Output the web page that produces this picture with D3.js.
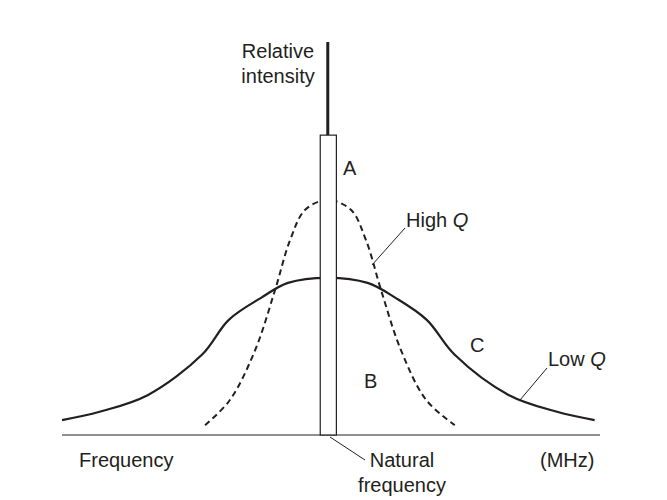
<!DOCTYPE html>
<html><head><meta charset="utf-8">
<script src="https://cdn.jsdelivr.net/npm/d3@7"></script>
<style>body{margin:0;background:#fff}text{font-family:"Liberation Sans",Arial,sans-serif;font-size:20px;fill:#231f20}</style>
</head><body><svg id="chart" width="667" height="500"></svg>
<script>
// Low Q curve (solid) and High Q curve (dashed)
const lowQFreq = [0, 7, 16, 26, 31, 37, 42, 49.4, 56.8, 62, 67.8, 73, 83, 92, 99];
const lowQInt = [3.8, 5.9, 10.2, 20.4, 29.3, 34.9, 38.7, 40, 38.7, 34.9, 29.3, 20.4, 10.2, 5.9, 3.8];
const highQFreq = [26.6, 31.2, 35.9, 39.6, 42.4, 45.2, 49.4, 53.7, 56.5, 59.3, 63, 67.7, 73];
const highQInt = [2.5, 8.9, 21.6, 36.9, 49.6, 57.3, 59.8, 57.3, 49.6, 36.9, 21.6, 8.9, 2.5];
// Natural frequency bar A
const barLeft = 48, barRight = 51, barTop = 76.3;

const svg = d3.select("#chart");
const x = d3.scaleLinear().domain([0, 100]).range([62, 600]);
const y = d3.scaleLinear().domain([0, 100]).range([435, 42]);
const ink = "#231f20";

// x axis baseline
svg.append("line").attr("x1", x(0)).attr("x2", x(100)).attr("y1", y(0)).attr("y2", y(0))
  .attr("stroke", ink).attr("stroke-width", 1);

// vertical intensity axis
svg.append("line").attr("x1", x(49.4)).attr("x2", x(49.4)).attr("y1", y(100)).attr("y2", y(barTop))
  .attr("stroke", ink).attr("stroke-width", 3);

const line = d3.line().x(d => x(d[0])).y(d => y(d[1])).curve(d3.curveCatmullRom);

svg.append("path").datum(d3.zip(lowQFreq, lowQInt)).attr("d", line)
  .attr("fill", "none").attr("stroke", ink).attr("stroke-width", 2.2);

svg.append("path").datum(d3.zip(highQFreq, highQInt)).attr("d", line)
  .attr("fill", "none").attr("stroke", ink).attr("stroke-width", 2).attr("stroke-dasharray", "6,4");

svg.append("rect").attr("x", x(barLeft)).attr("y", y(barTop))
  .attr("width", x(barRight) - x(barLeft)).attr("height", y(0) - y(barTop))
  .attr("fill", "#fff").attr("stroke", ink).attr("stroke-width", 1.2);

// leader lines
const leaders = [[405, 228, 372, 265], [547, 368, 520, 400], [330, 437, 365, 460]];
leaders.forEach(l => svg.append("line").attr("x1", l[0]).attr("y1", l[1]).attr("x2", l[2]).attr("y2", l[3])
  .attr("stroke", ink).attr("stroke-width", 1));

const label = (t, px, py, anchor) => svg.append("text").attr("x", px).attr("y", py)
  .attr("text-anchor", anchor || "start").text(t);

label("Relative", 278, 58, "middle");
label("intensity", 278, 83, "middle");
label("A", 343, 175);
label("B", 364, 388);
label("C", 470, 352);
svg.append("text").attr("x", 406, ).attr("y", 227).html('High <tspan font-style="italic">Q</tspan>');
svg.append("text").attr("x", 548).attr("y", 366).html('Low <tspan font-style="italic">Q</tspan>');
label("Frequency", 79, 467);
label("Natural", 402, 467, "middle");
label("frequency", 402, 492, "middle");
label("(MHz)", 540, 467);
</script></body></html>
